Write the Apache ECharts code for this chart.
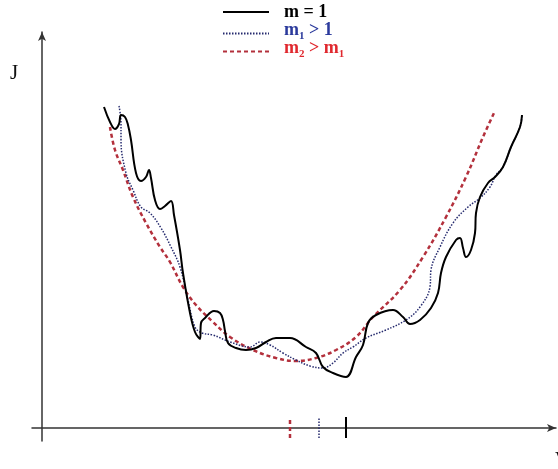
<!DOCTYPE html>
<html><head><meta charset="utf-8">
<script src="https://cdn.jsdelivr.net/npm/echarts@6/dist/echarts.min.js"></script>
<style>html,body{margin:0;padding:0;background:#fff}#c{width:558px;height:469px}</style>
</head><body><div id="c"></div>
<script>
// v (horizontal) and J (vertical) values (origin at the axes crossing)
const solidM1 = [[62,321],[68,306],[73,299],[77,304],[79,313],[83,311],[86,303],[89,288],[94,255],[99,247],[104,251],[107,258],[109,250],[113,228],[118,219],[123,222],[129,227],[132,213],[138,178],[141,155],[148,115],[153,96],[158,89],[159,105],[163,110],[172,117],[178,115],[181,108],[183,97],[186,85],[194,80],[204,78],[214,80],[224,86],[234,90],[248,90],[264,81],[274,75],[281,61],[291,55],[304,51],[314,71],[321,83],[326,105],[334,113],[351,118],[361,111],[368,104],[378,108],[389,120],[396,135],[399,155],[404,171],[414,188],[418,190],[421,180],[424,171],[429,178],[433,195],[434,215],[438,231],[446,245],[453,251],[461,261],[469,281],[478,301],[480,313]];
const dottedM1 = [[77,322],[79,305],[79,288],[84,255],[91,238],[99,221],[108,215],[119,200],[129,181],[138,161],[146,128],[153,101],[160,95],[171,93],[188,86],[208,81],[218,86],[228,83],[241,75],[254,68],[268,62],[281,60],[291,65],[301,75],[311,81],[324,90],[344,98],[364,108],[378,121],[388,141],[389,158],[398,181],[411,205],[426,221],[438,230],[448,241],[454,253],[461,261],[469,281],[478,301],[480,313]];
const dashedM2 = [[68,301],[73,278],[81,258],[91,231],[104,205],[118,181],[128,166],[141,141],[154,123],[171,106],[188,91],[211,78],[234,70],[254,67],[274,70],[294,78],[314,91],[331,111],[358,138],[381,171],[404,211],[424,251],[441,291],[452,315]];
// optimum v markers on the v axis
const optV = {m2: 248, m1: 277, one: 304};
const tickSpan = [-10, 11];
const seriesNames = ['m = 1', 'm1 > 1', 'm2 > m1'];
const axisNames = {y: 'J', x: 'V'};

const C_SOLID = '#000000', C_DOT = '#252a6e', C_DASH = '#b3303c';
const serif = 'Liberation Serif, DejaVu Serif, serif';

function tick(v, name, style) {
  return {type: 'line', name: name, symbol: 'none', silent: true, clip: false,
    data: [[v, tickSpan[0]], [v, tickSpan[1]]], lineStyle: style};
}
const sSolid = {color: C_SOLID, width: 2};
const sDot = {color: C_DOT, width: 1.5, type: [1.5, 1.5]};
const sDash = {color: C_DASH, width: 2.5, type: [4, 3]};

function legend(name, top, color, pad) {
  return {
    show: true, selectedMode: false, orient: 'vertical', left: 222, top: top, padding: 0,
    itemWidth: 46, itemHeight: 14, data: [{name: name}],
    itemStyle: {opacity: 0},
    formatter: function (n) {
      if (n === seriesNames[0]) return '{a|m = 1}';
      if (n === seriesNames[1]) return '{a|m}{s|1}{a| > 1}';
      return '{a|m}{s|2}{a| > m}{s|1}';
    },
    textStyle: {
      color: color, padding: pad,
      rich: {
        a: {fontFamily: serif, fontWeight: 'bold', fontSize: 18, color: color, lineHeight: 16},
        s: {fontFamily: serif, fontWeight: 'bold', fontSize: 11, color: color, lineHeight: 16, padding: [12, 0, 0, 0]}
      }
    }
  };
}

const chart = echarts.init(document.getElementById('c'), null, {renderer: 'canvas'});
chart.setOption({
  animation: false,
  backgroundColor: '#ffffff',
  title: [
    {text: axisNames.y, left: 5, top: 58, textStyle: {fontFamily: serif, fontWeight: 'normal', fontSize: 21, color: '#111'}},
    {text: axisNames.x, left: 550, top: 446, textStyle: {fontFamily: serif, fontWeight: 'normal', fontSize: 18, color: '#111'}}
  ],
  legend: [
    legend(seriesNames[0], 3, '#000000', [0, 0, 0, 10]),
    legend(seriesNames[1], 19, '#2b3a9c', [0, 0, 6, 10]),
    legend(seriesNames[2], 37, '#e0282e', [0, 0, 6, 10])
  ],
  grid: {left: 32, top: 32, width: 524, height: 409},
  xAxis: {type: 'value', min: -10, max: 514,
    axisLine: {onZero: true, symbol: ['none', 'arrow'], symbolSize: [6, 9], lineStyle: {color: '#333', width: 1.5}},
    axisTick: {show: false}, axisLabel: {show: false}, splitLine: {show: false}},
  yAxis: {type: 'value', min: -13, max: 396,
    axisLine: {onZero: true, symbol: ['none', 'arrow'], symbolSize: [6, 9], lineStyle: {color: '#333', width: 1.5}},
    axisTick: {show: false}, axisLabel: {show: false}, splitLine: {show: false}},
  series: [
    {type: 'line', name: seriesNames[2], data: dashedM2, symbol: 'none', smooth: 0.4, clip: false, lineStyle: sDash, itemStyle: {color: C_DASH}},
    {type: 'line', name: seriesNames[1], data: dottedM1, symbol: 'none', smooth: 0.4, clip: false, lineStyle: sDot, itemStyle: {color: C_DOT}},
    {type: 'line', name: seriesNames[0], data: solidM1, symbol: 'none', smooth: 0.4, clip: false, lineStyle: sSolid, itemStyle: {color: C_SOLID}},
    tick(optV.m2, 'tick2', sDash),
    tick(optV.m1, 'tick1', sDot),
    tick(optV.one, 'tick0', sSolid)
  ]
});
</script></body></html>
